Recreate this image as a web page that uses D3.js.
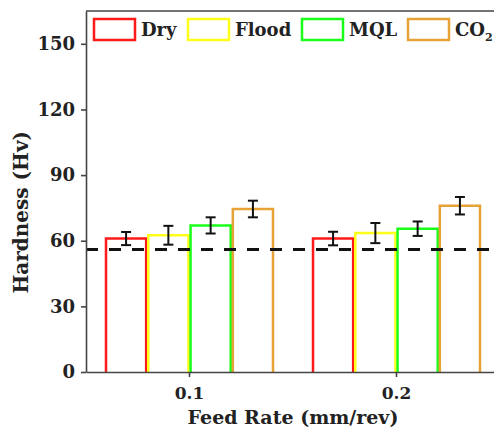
<!DOCTYPE html>
<html>
<head>
<meta charset="utf-8">
<script src="https://cdn.jsdelivr.net/npm/d3@7"></script>
<style>
  body { margin: 0; background: #fff; }
  text { font-family: "DejaVu Serif", Georgia, serif; font-weight: bold; }
</style>
</head>
<body>
<div id="svg"></div>
<script>
// data
var feedRates = ["0.1", "0.2"];
var methods = ["Dry", "Flood", "MQL", "CO2"];
var hardness = [
  [61, 62.5, 67, 74.5],
  [61, 63.5, 65.5, 76]
];
var errors = [
  [3, 4.3, 3.7, 3.8],
  [3.1, 4.6, 3.3, 4]
];
var baseline = 56;
var yTicks = [0, 30, 60, 90, 120, 150];
var colors = ["#ff1a1a", "#ffff1a", "#1aff1a", "#e6a235"];

var margin = {top: 11, right: -6, bottom: 60, left: 86},
    width = 494 - margin.left - margin.right,
    height = 432 - margin.top - margin.bottom;

var svg = d3.select("#svg")
  .append("svg")
    .attr("width", 494)
    .attr("height", 432)
  .append("g")
    .attr("transform", "translate(" + margin.left + "," + margin.top + ")");

var x = d3.scaleBand()
  .domain(feedRates)
  .range([0, width]);

var xInner = d3.scaleBand()
  .domain(methods)
  .range([20, x.bandwidth() - 20])
  .paddingInner(0.05);

var y = d3.scaleLinear()
  .domain([0, 165])
  .range([height, 0]);

// bars (open at the bottom, the axis closes them)
var groups = svg.append("g")
  .selectAll("g")
  .data(feedRates)
  .enter()
  .append("g")
    .attr("transform", function (d) { return "translate(" + x(d) + ",0)"; });

groups.selectAll("path")
  .data(function (d, i) {
    return methods.map(function (m, j) {
      return {m: m, v: hardness[i][j], e: errors[i][j], c: colors[j]};
    });
  })
  .enter()
  .append("path")
    .attr("d", function (d) {
      var x0 = xInner(d.m), x1 = x0 + xInner.bandwidth();
      return "M" + x0 + "," + height + "V" + y(d.v) + "H" + x1 + "V" + height;
    })
    .style("fill", "none")
    .style("stroke", function (d) { return d.c; })
    .style("stroke-width", 2.5);

// dashed reference line
svg.append("line")
  .attr("x1", 0)
  .attr("x2", width)
  .attr("y1", y(baseline))
  .attr("y2", y(baseline))
  .style("stroke", "#111")
  .style("stroke-width", 3)
  .style("stroke-dasharray", "12,11");

// error bars
var err = groups.selectAll("g.err")
  .data(function (d, i) {
    return methods.map(function (m, j) {
      return {m: m, v: hardness[i][j], e: errors[i][j]};
    });
  })
  .enter()
  .append("g")
    .attr("class", "err")
    .style("stroke", "#111")
    .style("stroke-width", 2);

err.append("line")
  .attr("x1", function (d) { return xInner(d.m) + xInner.bandwidth() / 2; })
  .attr("x2", function (d) { return xInner(d.m) + xInner.bandwidth() / 2; })
  .attr("y1", function (d) { return y(d.v + d.e); })
  .attr("y2", function (d) { return y(d.v - d.e); });

[1, -1].forEach(function (s) {
  err.append("line")
    .attr("x1", function (d) { return xInner(d.m) + xInner.bandwidth() / 2 - 5; })
    .attr("x2", function (d) { return xInner(d.m) + xInner.bandwidth() / 2 + 5; })
    .attr("y1", function (d) { return y(d.v + s * d.e); })
    .attr("y2", function (d) { return y(d.v + s * d.e); });
});

// axes
var xAxis = svg.append("g")
  .attr("transform", "translate(0," + height + ")")
  .call(d3.axisBottom(x).tickSize(5).tickPadding(10).tickSizeOuter(0));

var yAxis = svg.append("g")
  .call(d3.axisLeft(y).tickValues(yTicks).tickSize(5).tickPadding(6).tickSizeOuter(0));

[xAxis, yAxis].forEach(function (a) {
  a.select(".domain").style("stroke", "#444").style("stroke-width", 1.6);
  a.selectAll(".tick line").style("stroke", "#444").style("stroke-width", 1.6);
  a.selectAll(".tick text")
    .style("font-family", "'DejaVu Serif', serif")
    .style("font-weight", "bold")
    .style("font-size", "17px")
    .style("fill", "#222");
});
yAxis.selectAll(".tick text").style("font-size", "18px");

// top border
svg.append("line")
  .attr("x1", 0).attr("x2", width)
  .attr("y1", 0).attr("y2", 0)
  .style("stroke", "#444")
  .style("stroke-width", 1.6);

// axis titles
svg.append("text")
  .attr("x", x("0.1") + x.bandwidth())
  .attr("y", height + 52)
  .attr("text-anchor", "middle")
  .style("font-size", "19px")
  .style("fill", "#222")
  .text("Feed Rate (mm/rev)");

svg.append("text")
  .attr("transform", "translate(" + (-58) + "," + y(73) + ") rotate(-90)")
  .attr("text-anchor", "middle")
  .style("font-size", "20px")
  .style("fill", "#222")
  .text("Hardness (Hv)");

// legend
var legendX = [8, 102, 216, 322];
var legend = svg.append("g")
  .selectAll("g")
  .data(methods)
  .enter()
  .append("g")
    .attr("transform", function (d, i) { return "translate(" + legendX[i] + ",8)"; });

legend.append("rect")
  .attr("width", 41)
  .attr("height", 21)
  .style("fill", "none")
  .style("stroke", function (d, i) { return colors[i]; })
  .style("stroke-width", 2.5);

var lt = legend.append("text")
  .attr("x", 47)
  .attr("y", 17)
  .style("font-size", "18px")
  .style("fill", "#222");

lt.each(function (d) {
  var t = d3.select(this);
  if (d === "CO2") {
    t.text("CO");
    t.append("tspan").attr("dy", 5).style("font-size", "11px").text("2");
  } else {
    t.text(d);
  }
});
</script>
</body>
</html>
